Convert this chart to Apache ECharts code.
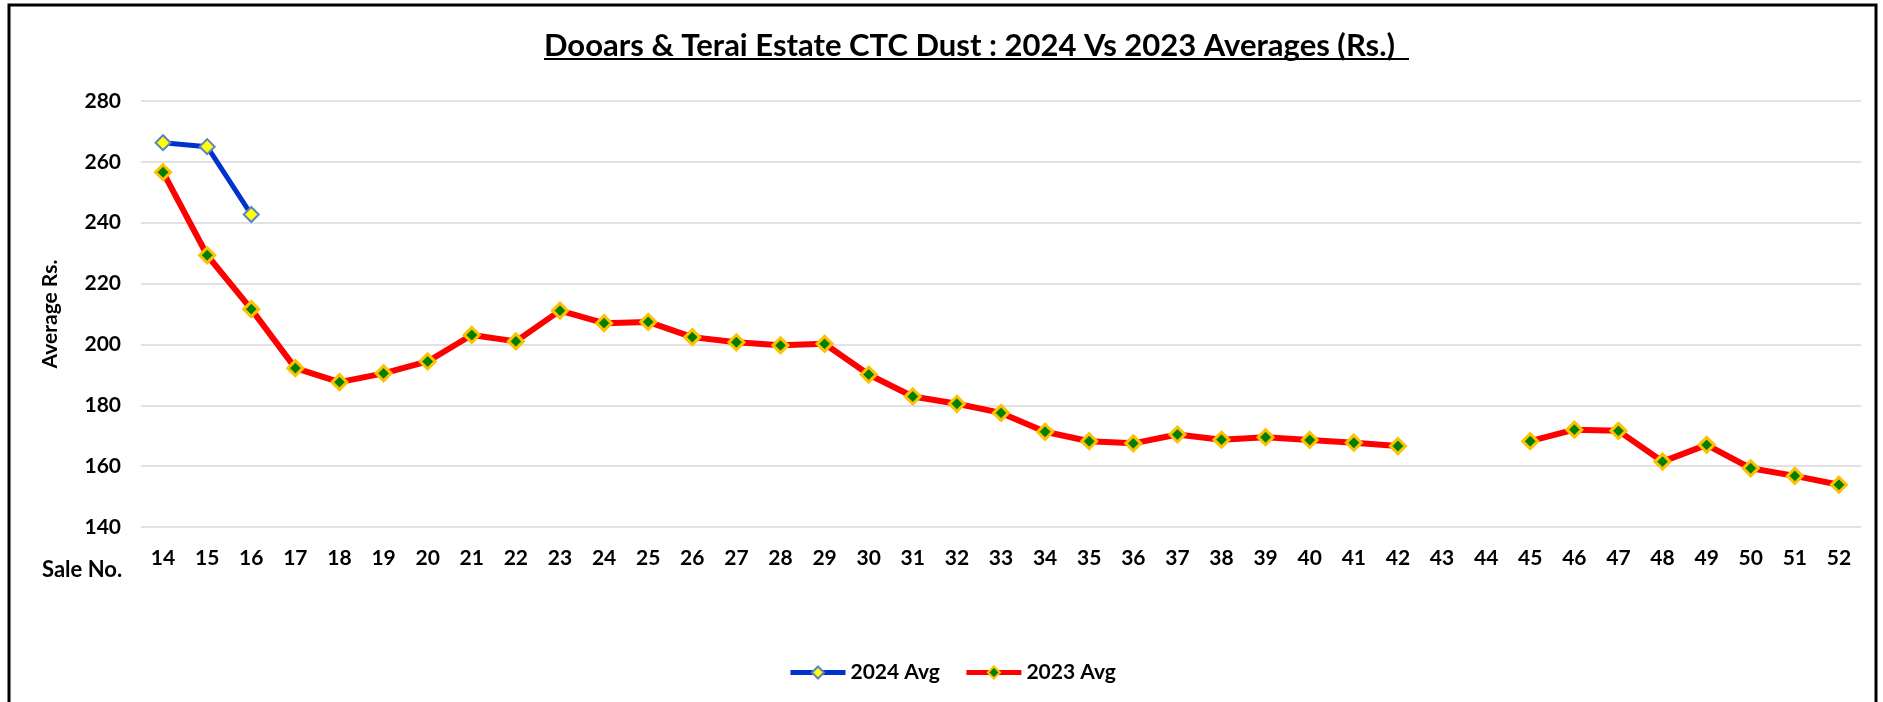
<!DOCTYPE html>
<html>
<head>
<meta charset="utf-8">
<title>Dooars & Terai Estate CTC Dust</title>
<script src="https://cdn.jsdelivr.net/npm/echarts@6/dist/echarts.min.js"></script>
<style>
	html, body { margin: 0; padding: 0; background: #fff; }
	#chartWrap { width: 1883px; height: 702px; }
</style>
</head>
<body>
<div id="chartWrap"></div>
<script>
// 数据
var saleNos = ['14','15','16','17','18','19','20','21','22','23','24','25','26','27','28','29','30','31','32','33',
	'34','35','36','37','38','39','40','41','42','43','44','45','46','47','48','49','50','51','52'];
var avg2024 = [266.3, 265.0, 242.7];
var avg2023 = [256.6, 229.3, 211.6, 192.2, 187.6, 190.5, 194.4, 203.1, 201.0, 211.1,
	207.0, 207.4, 202.4, 200.7, 199.7, 200.2, 190.1, 182.9, 180.5, 177.5,
	171.3, 168.2, 167.5, 170.4, 168.7, 169.5, 168.6, 167.7, 166.6, null,
	null, 168.2, 172.0, 171.6, 161.5, 167.0, 159.3, 156.8, 153.9];
var yTicks = [140, 280, 20]; // min, max, interval

var fontName = 'Lato, "Open Sans", sans-serif';

/*初始化图表*/
var initChart = function(){
	var myChart = echarts.init(document.getElementById('chartWrap'));

	var option = {
		backgroundColor: '#fff',
		animation: false,
		title: {
			text: 'Dooars & Terai Estate CTC Dust : 2024 Vs 2023 Averages (Rs.)',
			left: 539,
			top: 25,
			textStyle: { fontFamily: fontName, fontSize: 31, fontWeight: 'bold', color: '#000' }
		},
		legend: {
			left: 783,
			top: 657,
			itemWidth: 55,
			itemHeight: 15,
			itemGap: 24,
			lineStyle: { width: 5 },
			textStyle: { fontFamily: fontName, fontSize: 21, fontWeight: 'bold', color: '#000' },
			data: ['2024 Avg', '2023 Avg']
		},
		grid: {
			left: 141,
			right: 22,
			top: 101,
			bottom: 175
		},
		xAxis: {
			type: 'category',
			data: saleNos,
			boundaryGap: true,
			axisLine: { show: false },
			axisTick: { show: false },
			axisLabel: { margin: 21, fontFamily: fontName, fontSize: 21, fontWeight: 'bold', color: '#000' }
		},
		yAxis: {
			type: 'value',
			min: yTicks[0],
			max: yTicks[1],
			interval: yTicks[2],
			name: 'Average Rs.',
			nameLocation: 'middle',
			nameGap: 80,
			nameTextStyle: { fontFamily: fontName, fontSize: 21, fontWeight: 'bold', color: '#000' },
			axisLine: { show: false },
			axisTick: { show: false },
			axisLabel: { margin: 20, fontFamily: fontName, fontSize: 21, fontWeight: 'bold', color: '#000' },
			splitLine: { lineStyle: { color: '#d9d9d9', width: 1.5 } }
		},
		series: [
			{
				name: '2024 Avg',
				type: 'line',
				data: avg2024,
				symbol: 'diamond',
				symbolSize: 15,
				lineStyle: { color: '#0033cc', width: 5 },
				itemStyle: { color: '#ffff00', borderColor: '#5b82c8', borderWidth: 2 },
				z: 3
			},
			{
				name: '2023 Avg',
				type: 'line',
				data: avg2023,
				symbol: 'diamond',
				symbolSize: 15,
				connectNulls: false,
				lineStyle: { color: '#ff0000', width: 6 },
				itemStyle: { color: '#008000', borderColor: '#ffc000', borderWidth: 3 },
				z: 2
			}
		],
		graphic: [
			// 外框
			{
				type: 'rect',
				shape: { x: 9, y: 5, width: 1867, height: 760 },
				style: { fill: null, stroke: '#000', lineWidth: 3 },
				silent: true
			},
			// 标题下划线
			{
				type: 'line',
				shape: { x1: 544, y1: 59, x2: 1409, y2: 59 },
				style: { stroke: '#000', lineWidth: 2 },
				silent: true
			},
			{
				type: 'text',
				left: 42,
				top: 559,
				style: { text: 'Sale No.', fill: '#000', font: 'bold 22px ' + fontName }
			}
		]
	};

	myChart.setOption(option);
};

window.onload = function(){
	initChart();
};
</script>
</body>
</html>
